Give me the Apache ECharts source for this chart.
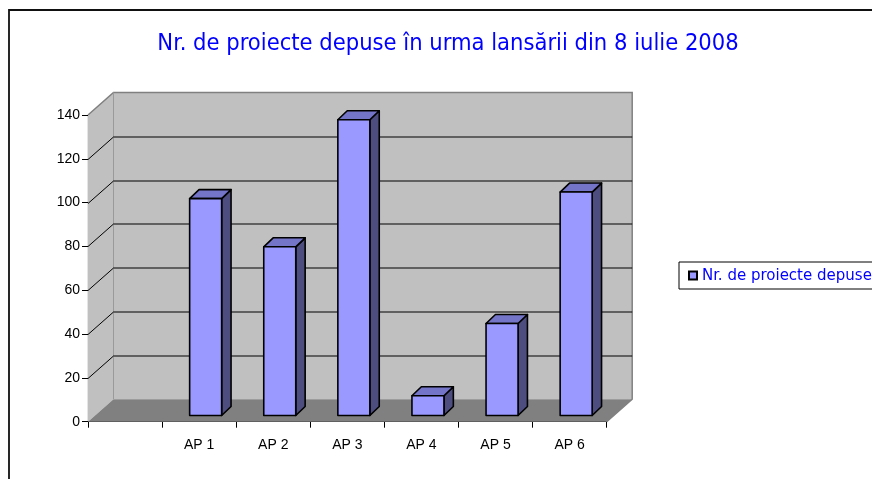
<!DOCTYPE html>
<html>
<head>
<meta charset="utf-8">
<script src="https://cdn.jsdelivr.net/npm/echarts@6/dist/echarts.min.js"></script>
<style>html,body{margin:0;padding:0;background:#fff;}#c{width:872px;height:479px;}</style>
</head>
<body>
<div id="c"></div>
<script>
const titleText = 'Nr. de proiecte depuse în urma lansării din 8 iulie 2008';
const seriesName = 'Nr. de proiecte depuse';
const categories = ['', 'AP 1', 'AP 2', 'AP 3', 'AP 4', 'AP 5', 'AP 6'];
const values = [null, 99, 77, 135, 9, 42, 102];
const yTicks = [0, 20, 40, 60, 80, 100, 120, 140];

const WX = 25.5, WY = -22.5;   // wall depth offset
const OX = 6.5, OY = -6.2;     // bar front-face offset into depth
const BX = 9.4, BY = -9;       // bar depth
const BW = 32;                 // bar width

const chart = echarts.init(document.getElementById('c'), null, {renderer: 'canvas'});

function renderWalls(params, api) {
  const cs = params.coordSys;
  const L = cs.x, R = cs.x + cs.width, T = cs.y, B = cs.y + cs.height;
  const poly = (pts, fill, stroke, lw) => ({type: 'polygon', shape: {points: pts},
    style: {fill: fill, stroke: stroke || null, lineWidth: lw || 0}});
  return {type: 'group', children: [
    poly([[L, B], [L, T], [L + WX, T + WY], [L + WX, B + WY]], '#C0C0C0'),
    poly([[L + WX, T + WY], [R + WX, T + WY], [R + WX, B + WY], [L + WX, B + WY]], '#C0C0C0'),
    poly([[L, B], [R, B], [R + WX, B + WY], [L + WX, B + WY]], '#808080'),
    {type: 'polyline', shape: {points: [[L, T], [L + WX, T + WY], [R + WX, T + WY], [R + WX, B + WY], [R, B]]},
      style: {fill: null, stroke: '#808080', lineWidth: 1.5}},
    {type: 'line', shape: {x1: L + WX, y1: T + WY, x2: L + WX, y2: B + WY},
      style: {stroke: '#9a9a9a', lineWidth: 1}}
  ]};
}

function renderGridLine(params, api) {
  const v = api.value(0);
  if (v <= 0 || v >= 140) return;
  const cs = params.coordSys;
  const L = cs.x, R = cs.x + cs.width;
  const y = Math.round(api.coord([0, v])[1]) + 0.5;
  return {type: 'polyline', shape: {points: [[L, y], [L + WX, y + WY], [R + WX, y + WY]]},
    style: {fill: null, stroke: '#000', lineWidth: 1}};
}

function renderBar(params, api) {
  const v = api.value(1);
  if (v == null || isNaN(v)) return;
  const base = api.coord([api.value(0), 0]);
  const top = api.coord([api.value(0), v]);
  const x0 = base[0] + OX - BW / 2, x1 = x0 + BW;
  const yb = base[1] + OY, yt = top[1] + OY;
  const st = (fill) => ({fill: fill, stroke: '#000', lineWidth: 1.6, lineJoin: 'round'});
  return {type: 'group', children: [
    {type: 'polygon', shape: {points: [[x1, yb], [x1 + BX, yb + BY], [x1 + BX, yt + BY], [x1, yt]]}, style: st('#4D4D80')},
    {type: 'polygon', shape: {points: [[x0, yt], [x1, yt], [x1 + BX, yt + BY], [x0 + BX, yt + BY]]}, style: st('#7474C8')},
    {type: 'polygon', shape: {points: [[x0, yb], [x1, yb], [x1, yt], [x0, yt]]}, style: st('#9999FF')}
  ]};
}

const option = {
  animation: false,
  backgroundColor: '#fff',
  title: {
    text: titleText, left: 443, top: 27, textAlign: 'center',
    textStyle: {color: '#0000FF', fontFamily: 'DejaVu Sans Condensed', fontSize: 23.5, fontWeight: 'normal'}
  },
  legend: {
    data: [seriesName], left: 679, top: 262, orient: 'vertical',
    padding: [5, 10, 5, 9], itemWidth: 8, itemHeight: 8, itemGap: 0,
    icon: 'rect', borderColor: '#000', borderWidth: 1, backgroundColor: '#fff',
    itemStyle: {borderColor: '#000', borderWidth: 2},
    textStyle: {color: '#0000FF', fontFamily: 'DejaVu Sans Condensed', fontSize: 16.7, padding: [0, 0, 0, 0]}
  },
  grid: {left: 88, top: 115, right: 265.3, bottom: 57.3, containLabel: false},
  xAxis: {
    type: 'category', data: categories,
    axisLine: {lineStyle: {color: '#000', width: 1.2}},
    axisTick: {show: true, length: 6, interval: 0, lineStyle: {color: '#000'}},
    axisLabel: {margin: 16, color: '#000', fontFamily: 'Liberation Sans', fontSize: 14, interval: 0},
    splitLine: {show: false}
  },
  yAxis: {
    type: 'value', min: 0, max: 140, interval: 20,
    axisLine: {show: true, lineStyle: {color: '#000', width: 1.2}},
    axisTick: {show: true, length: 6, lineStyle: {color: '#000'}},
    axisLabel: {margin: 8, color: '#000', fontFamily: 'Liberation Sans', fontSize: 14},
    splitLine: {show: false}
  },
  graphic: [{
    type: 'rect', shape: {x: 9, y: 10, width: 900, height: 500}, z: -10,
    style: {fill: null, stroke: '#111', lineWidth: 1.8}
  }],
  series: [
    {type: 'custom', name: 'walls', renderItem: renderWalls, data: [[0]], z: 1, silent: true},
    {type: 'custom', name: 'gridlines', renderItem: renderGridLine, data: yTicks.map(v => [v]), z: 2, silent: true},
    {type: 'custom', name: seriesName, renderItem: renderBar, itemStyle: {color: '#9999FF'},
      data: values.map((v, i) => [i, v]), z: 3}
  ]
};
chart.setOption(option);
</script>
</body>
</html>
